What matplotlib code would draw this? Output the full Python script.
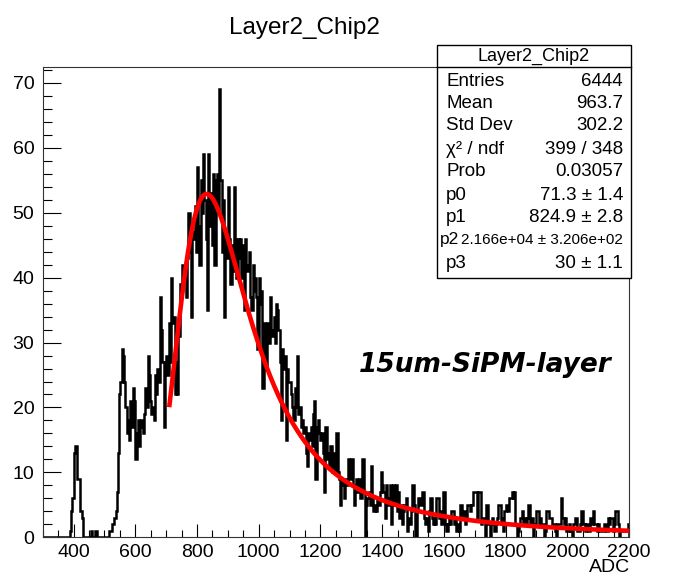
import numpy as np
import matplotlib
matplotlib.use("Agg")
import matplotlib.pyplot as plt
from matplotlib.patches import Rectangle
from matplotlib.lines import Line2D
from matplotlib.ticker import MultipleLocator

plt.rcParams['font.family'] = ['Liberation Sans', 'DejaVu Sans']

# ---------------- histogram: ADC spectrum, 4 ADC per bin from 300 ----------------
adc_low = 300
bin_width = 4
counts = [
    # 300-396
    0, 0, 0, 0, 0, 0, 0, 0, 0, 0, 0, 0, 0, 0, 0, 0, 0, 0, 0, 0, 0, 0, 1, 4, 6,
    # 400-496
    13, 14, 14, 9, 9, 4, 4, 3, 0, 0, 0, 0, 0, 0, 1, 0, 0, 1, 1, 0, 0, 0, 0, 0, 0,
    # 500-596
    0, 0, 0, 0, 1, 1, 2, 2, 3, 4, 7, 13, 22, 24, 29, 28, 24, 20, 16, 18, 15, 21, 17, 23, 21,
    # 600-696
    12, 16, 18, 14, 17, 18, 16, 19, 23, 20, 28, 25, 21, 19, 20, 18, 25, 22, 26, 24, 37, 32, 27, 17, 27,
    # 700-796
    28, 25, 33, 27, 40, 33, 34, 22, 27, 22, 31, 39, 38, 42, 40, 41, 37, 43, 50, 44, 34, 47, 46, 51, 44,
    # 800-896
    57, 48, 42, 55, 50, 59, 52, 46, 35, 59, 48, 53, 45, 56, 42, 55, 56, 50, 69, 55, 44, 52, 34, 47, 43,
    # 900-996
    54, 46, 39, 45, 41, 54, 46, 40, 46, 43, 46, 40, 45, 35, 46, 41, 42, 44, 37, 35, 42, 38, 40, 37, 29,
    # 1000-1096
    40, 36, 38, 23, 33, 31, 26, 33, 30, 37, 32, 31, 34, 30, 36, 35, 32, 27, 18, 29, 26, 28, 15, 26, 24,
    # 1100-1196
    24, 22, 20, 18, 23, 20, 28, 19, 20, 17, 18, 16, 17, 13, 11, 16, 15, 17, 14, 19, 21, 9, 17, 18, 16,
    # 1200-1296
    15, 16, 13, 7, 17, 12, 13, 11, 14, 10, 13, 11, 10, 16, 10, 9, 5, 9, 8, 6, 9, 8, 12, 11, 9,
    # 1300-1396
    12, 8, 5, 8, 9, 7, 9, 6, 6, 12, 7, 0, 5, 6, 7, 5, 11, 6, 4, 5, 4, 6, 5, 7, 10,
    # 1400-1496
    8, 7, 3, 8, 6, 5, 8, 2, 6, 8, 5, 8, 4, 7, 3, 5, 2, 4, 5, 6, 1, 3, 2, 4, 8,
    # 1500-1596
    8, 5, 0, 4, 6, 6, 5, 7, 7, 3, 2, 3, 1, 4, 6, 3, 2, 3, 2, 6, 6, 3, 4, 2, 7,
    # 1600-1696
    7, 2, 1, 2, 3, 2, 4, 4, 2, 3, 1, 2, 1, 5, 5, 3, 4, 2, 3, 5, 5, 4, 5, 5, 7,
    # 1700-1796
    7, 7, 3, 7, 7, 2, 3, 3, 0, 5, 5, 2, 0, 2, 3, 2, 1, 2, 3, 5, 5, 2, 3, 1, 4,
    # 1800-1896
    5, 5, 4, 6, 6, 7, 6, 7, 2, 0, 1, 2, 3, 4, 2, 3, 2, 3, 5, 5, 2, 3, 0, 2, 2,
    # 1900-1996
    4, 4, 2, 3, 2, 2, 0, 1, 4, 4, 3, 3, 3, 2, 2, 1, 0, 2, 2, 2, 6, 3, 2, 3, 1,
    # 2000-2096
    1, 2, 1, 1, 0, 2, 3, 3, 1, 1, 2, 4, 4, 2, 1, 2, 2, 1, 3, 3, 2, 4, 2, 2, 1,
    # 2100-2196
    2, 1, 1, 1, 1, 2, 1, 1, 3, 2, 3, 3, 1, 2, 4, 4, 2, 0, 1, 1, 1, 1, 1, 1, 2,
]

# ---------------- Landau (x) Gauss fit result ----------------
p0_width = 71.3      # Landau width
p1_mpv = 824.9       # most probable value
p2_area = 2.166e4    # normalisation
p3_sigma = 30.0      # Gaussian sigma
fit_range = (710, 2200)

stats_title = "Layer2_Chip2"
stats_rows = [
    ("Entries", "6444"),
    ("Mean", "963.7"),
    ("Std Dev", "302.2"),
    ("\u03c7\u00b2 / ndf", "399 / 348"),
    ("Prob", "0.03057"),
    ("p0", "71.3 \u00b1 1.4"),
    ("p1", "824.9 \u00b1 2.8"),
    ("p2", "2.166e+04 \u00b1 3.206e+02"),
    ("p3", "30 \u00b1 1.1"),
]


def landau_standard(lam):
    """Standard Landau density phi(lambda) by direct numerical integration."""
    lam = np.atleast_1d(np.asarray(lam, dtype=float))
    h = 0.002
    t = (np.arange(25000) + 0.5) * h
    base = -t * np.log(t)
    s = np.sin(np.pi * t)
    out = np.zeros_like(lam)
    idx = np.where(lam > -3.3)[0]
    if len(idx):
        for chunk in np.array_split(idx, max(1, len(idx) // 64)):
            L = lam[chunk][:, None]
            integ = np.exp(base[None, :] - L * t[None, :]) * s[None, :]
            out[chunk] = integ.sum(axis=1) * h / np.pi
    return out


def langaus(x, width, mpv, area, sigma):
    mpshift = -0.22278298
    mpc = mpv - mpshift * width
    xx = np.arange(x.min() - 6 * sigma, x.max() + 6 * sigma, 1.0)
    dens = landau_standard((xx - mpc) / width) / width
    g = np.exp(-0.5 * ((x[:, None] - xx[None, :]) / sigma) ** 2) / (np.sqrt(2 * np.pi) * sigma)
    return area * (g @ dens) * 1.0


# ---------------- figure ----------------
W, H = 683, 578
fig = plt.figure(figsize=(W / 100, H / 100), dpi=100)


def fx(px):
    return px / W


def fy(py):
    return 1 - py / H


left, right, top, bottom = 42.7, 629.0, 67.0, 537.3
ax = fig.add_axes([fx(left), fy(bottom), fx(right) - fx(left), fy(top) - fy(bottom)])

edges = adc_low + bin_width * np.arange(len(counts) + 1)
ax.stairs(counts, edges, color='black', lw=1.8, zorder=2)

xfit = np.linspace(fit_range[0], fit_range[1], 700)
yfit = langaus(xfit, p0_width, p1_mpv, p2_area, p3_sigma)
ax.plot(xfit, yfit, color='#ff0000', lw=3.3, zorder=3, solid_capstyle='butt')

ax.set_xlim(300, 2200)
ax.set_ylim(0, 72.45)
ax.xaxis.set_major_locator(MultipleLocator(200))
ax.xaxis.set_minor_locator(MultipleLocator(50))
ax.yaxis.set_major_locator(MultipleLocator(10))
ax.yaxis.set_minor_locator(MultipleLocator(2))
ax.tick_params(which='both', direction='in', top=False, right=False, width=0.8, colors='black',
               labelsize=14)
ax.tick_params(axis='y', which='major', length=13, pad=6)
ax.tick_params(axis='y', which='minor', length=6.5)
ax.tick_params(axis='x', which='major', length=9.5, pad=5)
ax.tick_params(axis='x', which='minor', length=4.7)
for sp in ax.spines.values():
    sp.set_linewidth(0.8)
    sp.set_color('#333333')

# title and axis label
fig.text(fx(304), fy(28), stats_title, ha='center', va='center', fontsize=17.5)
fig.text(fx(630), fy(568), "ADC", ha='right', va='center', fontsize=14)

# stats box
bx0, bx1, by0, by1 = 437, 631, 45, 278
fig.add_artist(Rectangle((fx(bx0), fy(by1)), fx(bx1) - fx(bx0), fy(by0) - fy(by1),
                         transform=fig.transFigure, facecolor='white', edgecolor='black',
                         lw=1.0, zorder=5))
fig.add_artist(Line2D([fx(bx0), fx(bx1)], [fy(67), fy(67)], transform=fig.transFigure,
                      color='black', lw=1.0, zorder=6))
fig.text(fx((bx0 + bx1) / 2), fy(56), stats_title, ha='center', va='center', fontsize=13, zorder=7)
row_y = [81, 103, 126, 149, 172, 195, 217, 240, 263]
for (lab, val), yy in zip(stats_rows, row_y):
    if len(val) > 14:
        # long entry: shrunk and shifted so it fits beside its label
        fig.text(fx(440), fy(yy), lab, ha='left', va='center', fontsize=12.5, zorder=7)
        fig.text(fx(623), fy(yy), val, ha='right', va='center', fontsize=11, zorder=7)
    else:
        fig.text(fx(446), fy(yy), lab, ha='left', va='center', fontsize=13.5, zorder=7)
        fig.text(fx(623), fy(yy), val, ha='right', va='center', fontsize=13.5, zorder=7)

# annotation
fig.text(fx(485), fy(365), "15um-SiPM-layer", ha='center', va='center', fontsize=19,
         fontweight='bold', style='italic', family=['DejaVu Sans'], zorder=7)

fig.savefig("out.png", dpi=100)
